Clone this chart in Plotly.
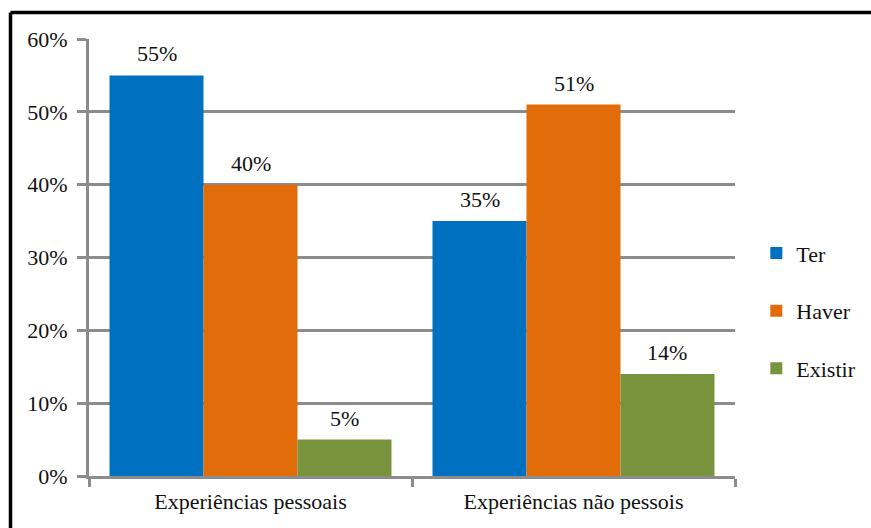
import plotly.graph_objects as go

categories = ["Experiências pessoais", "Experiências não pessois"]
ter = [55, 35]
haver = [40, 51]
existir = [5, 14]
series_names = ["Ter", "Haver", "Existir"]
colors = ["#0070C0", "#E36C0A", "#77933C"]
y_ticks = [0, 10, 20, 30, 40, 50, 60]

FONT = "Liberation Serif"
FS = 22
W, H = 871, 528
ML, MR, MT, MB = 89, 136, 39, 52
PW, PH = W - ML - MR, H - MT - MB
BARGAP = 0.127
BAR_PX = PW / len(categories) * (1 - BARGAP) / len(series_names)

fig = go.Figure()
for i, (name, vals, col) in enumerate(zip(series_names, [ter, haver, existir], colors)):
    fig.add_trace(go.Bar(
        x=categories, y=vals, name=name, marker_color=col, marker_line_width=0,
        legendgroup=name,
    ))
    # value labels above each bar
    for cat, v in zip(categories, vals):
        fig.add_annotation(x=cat, y=v, text=f"{v}%", showarrow=False,
                           xref="x", yref="y", yanchor="bottom",
                           xshift=(i - 1) * BAR_PX, yshift=7,
                           font=dict(family=FONT, size=FS, color="#111111"))

# outer black frame (left and top edges visible in the page)
fx = (10.5 - ML) / PW
fy = 1 + (MT - 12.5) / PH
fig.add_shape(type="line", xref="paper", yref="paper", x0=fx, x1=fx, y0=fy, y1=-0.3,
              line=dict(color="black", width=3.5))
fig.add_shape(type="line", xref="paper", yref="paper", x0=fx, x1=1.4, y0=fy, y1=fy,
              line=dict(color="black", width=3.5))

fig.update_layout(
    width=W, height=H,
    margin=dict(l=ML, r=MR, t=MT, b=MB, autoexpand=False),
    paper_bgcolor="white", plot_bgcolor="white",
    barmode="group", bargap=BARGAP, bargroupgap=0,
    font=dict(family=FONT, size=FS, color="#111111"),
    legend=dict(x=1.033, y=0.378, xanchor="left", yanchor="middle",
                font=dict(family=FONT, size=FS, color="#111111"),
                tracegroupgap=26, itemwidth=30),
    showlegend=True,
)
fig.update_yaxes(range=[0, 60], tickvals=y_ticks, ticktext=[f"{v}%" for v in y_ticks],
                 showgrid=True, gridcolor="#8c8c8c", gridwidth=3,
                 showline=True, linecolor="#8c8c8c", linewidth=3,
                 ticks="outside", ticklen=9, tickwidth=3, tickcolor="#8c8c8c",
                 ticklabelstandoff=5,
                 zeroline=False, tickfont=dict(family=FONT, size=FS))
fig.update_xaxes(showline=True, linecolor="#8c8c8c", linewidth=3,
                 ticks="outside", tickson="boundaries", ticklen=8, tickwidth=3,
                 tickcolor="#8c8c8c", ticklabelstandoff=4,
                 tickfont=dict(family=FONT, size=FS))

fig.write_html("out.html")
